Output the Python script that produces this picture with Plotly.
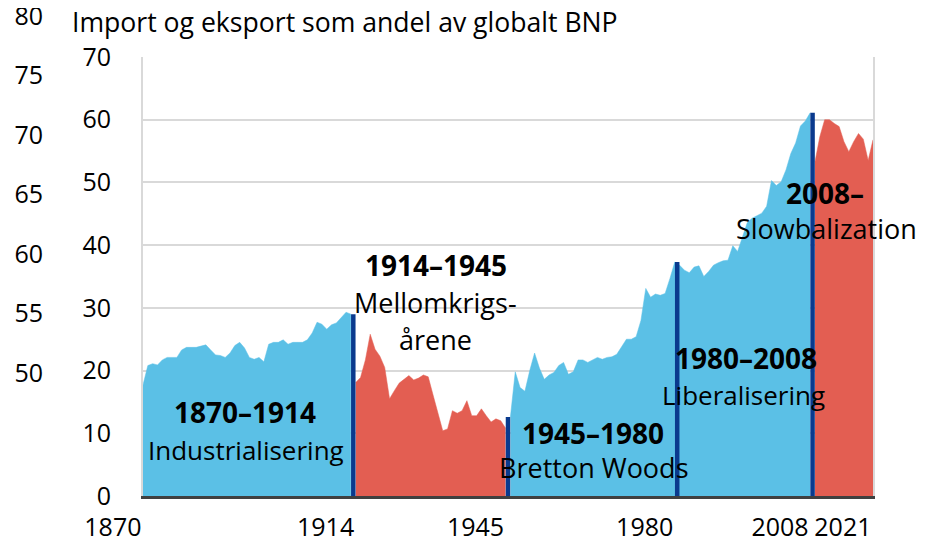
import plotly.graph_objects as go

# Import og eksport som andel av globalt BNP (prosent), lest av figuren
years_1870_1913 = list(range(1870, 1914))
vals_1870_1913 = [
    17.7, 20.8, 21.1, 20.9, 21.7, 22.1, 22.1, 22.1, 23.3, 23.7,
    23.7, 23.7, 23.9, 24.1, 23.3, 22.5, 22.4, 22.1, 22.8, 24.0,
    24.5, 23.6, 22.1, 21.8, 22.1, 21.4, 24.2, 24.5, 24.5, 24.9,
    24.2, 24.5, 24.5, 24.5, 24.9, 26.0, 27.7, 27.4, 26.6, 27.3,
    27.6, 28.5, 29.3, 29.0,
]
years_1914_1945 = list(range(1914, 1946))
vals_1914_1945 = [
    18.1, 18.9, 21.7, 25.8, 23.4, 22.3, 20.5, 15.5, 16.8, 18.0,
    18.6, 19.2, 18.5, 18.8, 19.3, 19.0, 16.1, 13.2, 10.4, 10.7,
    13.6, 13.2, 13.6, 15.2, 12.8, 12.8, 13.9, 12.8, 11.8, 12.3,
    12.0, 10.8,
]
years_1946_2008 = list(range(1946, 2009))
vals_1946_2008 = [
    12.6, 19.8, 17.3, 16.7, 20.0, 22.8, 20.4, 18.6, 19.3, 19.7,
    20.8, 21.3, 19.4, 19.8, 21.7, 21.7, 21.3, 21.7, 22.1, 21.8,
    22.1, 22.2, 22.6, 23.8, 25.0, 25.0, 25.4, 28.0, 33.1, 31.7,
    32.2, 32.0, 32.3, 34.7, 37.3, 36.8, 36.0, 35.6, 36.5, 36.7,
    35.0, 35.8, 36.8, 37.2, 37.5, 37.6, 39.9, 39.0, 41.4, 43.6,
    44.3, 44.7, 45.1, 46.2, 50.3, 49.5, 50.1, 52.0, 54.6, 56.3,
    59.0, 59.8, 61.1,
]
years_2009_2021 = list(range(2009, 2022))
vals_2009_2021 = [
    53.3, 57.3, 60.0, 60.0, 59.4, 58.9, 56.5, 54.9, 56.5, 57.8,
    56.9, 53.5, 56.8,
]

period_ends = [1913, 1945, 1980, 2008]
x_ticks = [1870, 1914, 1945, 1980, 2008, 2021]
left_ticks = [0, 10, 20, 30, 40, 50, 60, 70]
outer_ticks = [50, 55, 60, 65, 70, 75, 80]

BLUE = "#5BC0E6"
RED = "#E35E52"
DARK = "#0A3A8E"
GRID = "#D9D9D9"
FONT = "Open Sans"

all_years = years_1870_1913 + years_1914_1945 + years_1946_2008 + years_2009_2021
all_vals = vals_1870_1913 + vals_1914_1945 + vals_1946_2008 + vals_2009_2021
lookup = dict(zip(all_years, all_vals))

fig = go.Figure()
segments = [
    (years_1870_1913, vals_1870_1913, BLUE),
    (years_1914_1945, vals_1914_1945, RED),
    (years_1946_2008, vals_1946_2008, BLUE),
    (years_2009_2021, vals_2009_2021, RED),
]
for xs, ys, col in segments:
    fig.add_trace(go.Scatter(
        x=xs, y=ys, mode="lines", fill="tozeroy",
        line={"color": col, "width": 0.5}, fillcolor=col,
        showlegend=False, hoverinfo="skip",
    ))

# Skillelinjer mellom periodene
sep_x, sep_y = [], []
for e in period_ends:
    h = max(lookup[e], lookup[e + 1])
    sep_x += [e + 0.5, e + 0.5, None]
    sep_y += [0, h, None]
fig.add_trace(go.Scatter(
    x=sep_x, y=sep_y, mode="lines",
    line={"color": DARK, "width": 4.5},
    showlegend=False, hoverinfo="skip",
))

# hjelpespor for den ytre venstre aksen
fig.add_trace(go.Scatter(x=[None], y=[None], yaxis="y2", showlegend=False))

annotations = [
    ("<b>1870\u20131914</b>", 1891.1, 13.4, 28),
    ("Industrialisering", 1891.3, 7.3, 26),
    ("<b>1914\u20131945</b>", 1930.6, 36.8, 28),
    ("Mellomkrigs-", 1930.6, 30.8, 27),
    ("årene", 1930.6, 24.9, 27),
    ("<b>1945\u20131980</b>", 1963.1, 10.0, 28),
    ("Bretton Woods", 1963.3, 4.6, 27),
    ("<b>1980\u20132008</b>", 1994.7, 22.0, 28),
    ("Liberalisering", 1994.3, 16.1, 26),
    ("<b>2008\u2013</b>", 2011.1, 48.3, 28),
    ("Slowbalization", 2011.3, 42.7, 27),
]
for txt, ax, ay, fs in annotations:
    fig.add_annotation(
        x=ax, y=ay, xref="x", yref="y", text=txt, showarrow=False,
        font={"family": FONT, "size": fs, "color": "#000000"},
        xanchor="center", yanchor="middle",
    )

# siden vises med 8 px marg rundt, så alle pikselmål er forskjøvet 8 px
fig.add_annotation(
    x=(62 - 2) / 863, y=(488 - 14) / 486, xref="paper", yref="paper",
    text="Import og eksport som andel av globalt BNP", showarrow=False,
    font={"family": FONT, "size": 26.6, "color": "#000000"},
    xanchor="left", yanchor="middle",
)

fig.update_layout(
    width=933, height=540,
    margin={"l": 2, "r": 68, "t": 2, "b": 52},
    paper_bgcolor="white", plot_bgcolor="rgba(0,0,0,0)",
    font={"family": FONT, "size": 25, "color": "#000000"},
    showlegend=False,
    xaxis={
        "domain": [133 / 863, 1], "range": [1870, 2021],
        "tickvals": x_ticks, "ticktext": [str(t) for t in x_ticks],
        "ticklabelposition": "outside left", "ticks": "", "tickangle": 0,
        "showgrid": False, "zeroline": False,
        "showline": True, "linecolor": "#404040", "linewidth": 3,
        "ticklabelstandoff": 7, "automargin": False,
        "ticklabeloverflow": "allow",
    },
    yaxis={
        "domain": [0, 439 / 486], "range": [0, 70],
        "tickvals": left_ticks, "ticks": "",
        "showgrid": True, "gridcolor": GRID, "gridwidth": 2,
        "zeroline": False, "showline": True, "mirror": True,
        "linecolor": GRID, "linewidth": 2,
        "ticklabelstandoff": 25, "automargin": False,
    },
    yaxis2={
        "domain": [0, 1], "range": [39.66, 80.5],
        "anchor": "free", "position": (35 - 2) / 863,
        "tickvals": outer_ticks, "ticks": "",
        "showgrid": False, "zeroline": False, "showline": False,
        "automargin": False, "ticklabeloverflow": "allow",
    },
)

fig.write_html("out.html")
